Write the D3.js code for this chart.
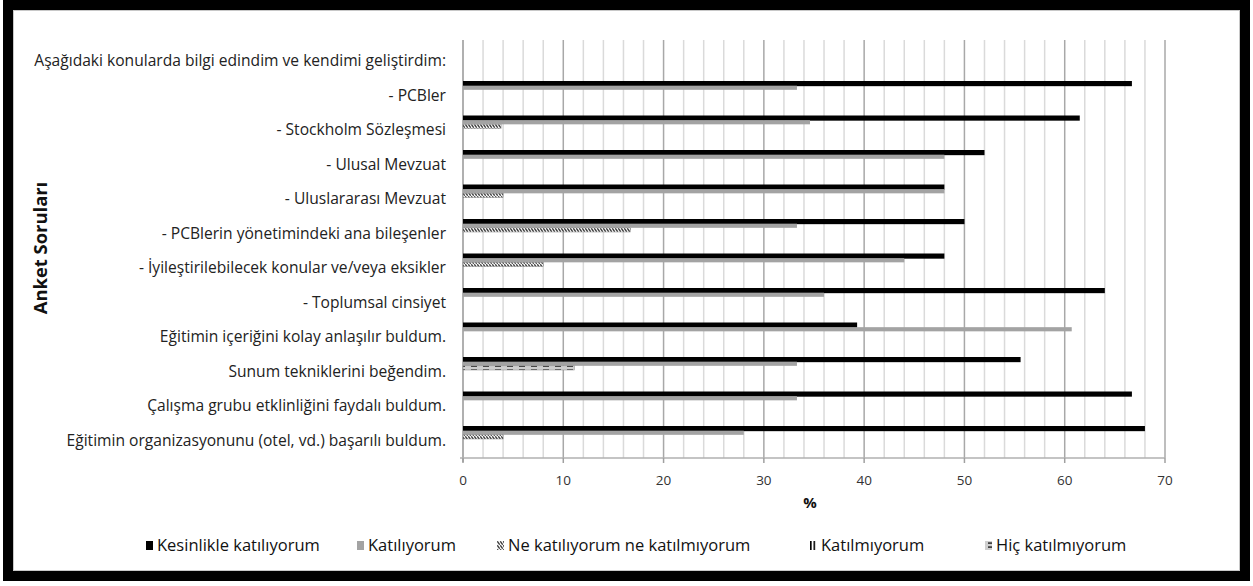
<!DOCTYPE html>
<html>
<head>
<meta charset="utf-8">
<script src="https://cdn.jsdelivr.net/npm/d3@7"></script>
<style>
  body { margin: 0; background: #fff; }
  text { font-family: "Open Sans", "Noto Sans", sans-serif; }
</style>
</head>
<body>
<div id="chart"></div>
<script>
// data
const categories = [
  "Aşağıdaki konularda bilgi edindim ve kendimi geliştirdim:",
  "- PCBler",
  "- Stockholm Sözleşmesi",
  "- Ulusal Mevzuat",
  "- Uluslararası Mevzuat",
  "- PCBlerin yönetimindeki ana bileşenler",
  "- İyileştirilebilecek konular ve/veya eksikler",
  "- Toplumsal cinsiyet",
  "Eğitimin içeriğini kolay anlaşılır buldum.",
  "Sunum tekniklerini beğendim.",
  "Çalışma grubu etklinliğini faydalı buldum.",
  "Eğitimin organizasyonunu (otel, vd.) başarılı buldum."
]
const kesinlikle = [null, 66.7, 61.5, 52, 48, 50, 48, 64, 39.3, 55.6, 66.7, 68]
const katiliyorum = [null, 33.3, 34.6, 48, 48, 33.3, 44, 36, 60.7, 33.3, 33.3, 28]
const neNe = [null, 0, 3.8, 0, 4, 16.7, 8, 0, 0, 0, 0, 4]
const katilmiyorum = [null, 0, 0, 0, 0, 0, 0, 0, 0, 0, 0, 0]
const hic = [null, 0, 0, 0, 0, 0, 0, 0, 0, 11.1, 0, 0]
const seriesNames = ["Kesinlikle katılıyorum", "Katılıyorum", "Ne katılıyorum ne katılmıyorum", "Katılmıyorum", "Hiç katılmıyorum"]
const xTicks = [0, 10, 20, 30, 40, 50, 60, 70]

const width = 1253
const height = 586

let svg = d3.select('div#chart').append('svg').attr('width', width).attr('height', height)

// patterns
let defs = svg.append('defs')
let pNe = defs.append('pattern').attr('id', 'pNe').attr('patternUnits', 'userSpaceOnUse').attr('width', 3).attr('height', 4)
pNe.append('rect').attr('width', 3).attr('height', 4).attr('fill', '#f2f2f2')
pNe.append('path').attr('d', 'M0.3,0.3 L2.7,3.7').attr('stroke', '#333').attr('stroke-width', 1.2).attr('fill', 'none')
let pKat = defs.append('pattern').attr('id', 'pKat').attr('patternUnits', 'userSpaceOnUse').attr('width', 3.5).attr('height', 4)
pKat.append('rect').attr('width', 3.5).attr('height', 4).attr('fill', '#fff')
pKat.append('rect').attr('width', 1.6).attr('height', 4).attr('fill', '#000')
let pHic = defs.append('pattern').attr('id', 'pHic').attr('patternUnits', 'userSpaceOnUse').attr('width', 12).attr('height', 4)
pHic.append('rect').attr('width', 12).attr('height', 4).attr('fill', '#cfcfcf')
pHic.append('rect').attr('x', 3).attr('y', 1.3).attr('width', 6).attr('height', 1.6).attr('fill', '#333')

const fills = {
  "Kesinlikle katılıyorum": "#000",
  "Katılıyorum": "#a3a3a3",
  "Ne katılıyorum ne katılmıyorum": "url(#pNe)",
  "Katılmıyorum": "url(#pKat)",
  "Hiç katılmıyorum": "url(#pHic)"
}

// frame
svg.append('rect').attr('x', 8).attr('y', 5).attr('width', 1237).attr('height', 571)
  .attr('fill', 'none').attr('stroke', '#000').attr('stroke-width', 10)
svg.append('rect').attr('x', 13.5).attr('y', 10.5).attr('width', 1226).attr('height', 560)
  .attr('fill', 'none').attr('stroke', '#c8c8c8').attr('stroke-width', 1)

let x = d3.scaleLinear().domain([0, 70]).range([463, 1165])
let y = d3.scaleBand().domain(categories).range([44, 458])
let slotOf = d3.scaleOrdinal().domain(seriesNames).range(['a', 'b', 'c', 'c', 'c'])
let slot = d3.scaleBand().domain(['a', 'b', 'c']).range([3, 15.5])

// gridlines
let grid = svg.append('g').attr('id', 'grid')
grid.selectAll('line').data(d3.range(2, 71, 2)).join('line')
  .attr('x1', d => x(d)).attr('x2', d => x(d))
  .attr('y1', 40).attr('y2', 458)
  .attr('stroke', d => d % 10 == 0 ? '#a8a8a8' : '#dadada')
  .attr('stroke-width', 1.5)

// axes lines
svg.append('line').attr('x1', x(0)).attr('x2', x(0)).attr('y1', 40).attr('y2', 462)
  .attr('stroke', '#b0b0b0').attr('stroke-width', 2)
svg.append('line').attr('x1', x(0) - 3).attr('x2', x(70)).attr('y1', 458).attr('y2', 458)
  .attr('stroke', '#b0b0b0').attr('stroke-width', 1.5)

let xAxisGroup = svg.append('g').attr('id', 'xAxisGroup')
xAxisGroup.selectAll('line').data(xTicks).join('line')
  .attr('x1', d => x(d)).attr('x2', d => x(d)).attr('y1', 458).attr('y2', 463)
  .attr('stroke', '#a0a0a0').attr('stroke-width', 1.5)
xAxisGroup.selectAll('text').data(xTicks).join('text')
  .attr('x', d => x(d)).attr('y', 485)
  .attr('text-anchor', 'middle').attr('font-size', 13.5).attr('fill', '#333')
  .text(d => d)

// category labels
svg.append('g').attr('id', 'yLabels').selectAll('text').data(categories).join('text')
  .attr('x', 446).attr('y', d => y(d) + y.bandwidth() / 2 + 5)
  .attr('text-anchor', 'end').attr('font-size', 15.6).attr('fill', '#222')
  .text(d => d)

// bars
const allSeries = [kesinlikle, katiliyorum, neNe, katilmiyorum, hic]
let barGroup = svg.append('g').attr('id', 'bars')
allSeries.forEach((vals, s) => {
  let name = seriesNames[s]
  let rows = categories.map((c, i) => ({ cat: c, v: vals[i] })).filter(d => d.v)
  barGroup.selectAll(`rect.s${s}`).data(rows).join('rect')
    .attr('class', `s${s}`)
    .attr('x', x(0))
    .attr('y', d => y(d.cat) + slot(slotOf(name)) - (s == 0 ? 0.5 : 0))
    .attr('width', d => x(d.v) - x(0))
    .attr('height', slot.bandwidth() + (s == 0 ? 1 : 0))
    .attr('fill', fills[name])
    .attr('stroke', s >= 2 ? '#888' : 'none')
    .attr('stroke-width', 0.5)
})

// axis titles
svg.append('text').attr('transform', 'translate(47, 248) rotate(-90)')
  .attr('text-anchor', 'middle').attr('font-size', 18.4).attr('font-weight', 'bold').attr('fill', '#111')
  .text('Anket Soruları')
svg.append('text').attr('x', 810).attr('y', 508)
  .attr('text-anchor', 'middle').attr('font-size', 15).attr('font-weight', 'bold').attr('fill', '#111')
  .text('%')

// legend
const legendX = [146, 357, 497, 810, 985]
let legendGroup = svg.append('g').attr('id', 'legendGroup')
seriesNames.forEach((name, i) => {
  let g = legendGroup.append('g').attr('transform', `translate(${legendX[i]}, 541)`)
  g.append('rect').attr('width', 7).attr('height', 9).attr('fill', fills[name])
  g.append('text').attr('x', 11).attr('y', 10).attr('font-size', 16.5).attr('fill', '#111').text(name)
})
</script>
</body>
</html>
